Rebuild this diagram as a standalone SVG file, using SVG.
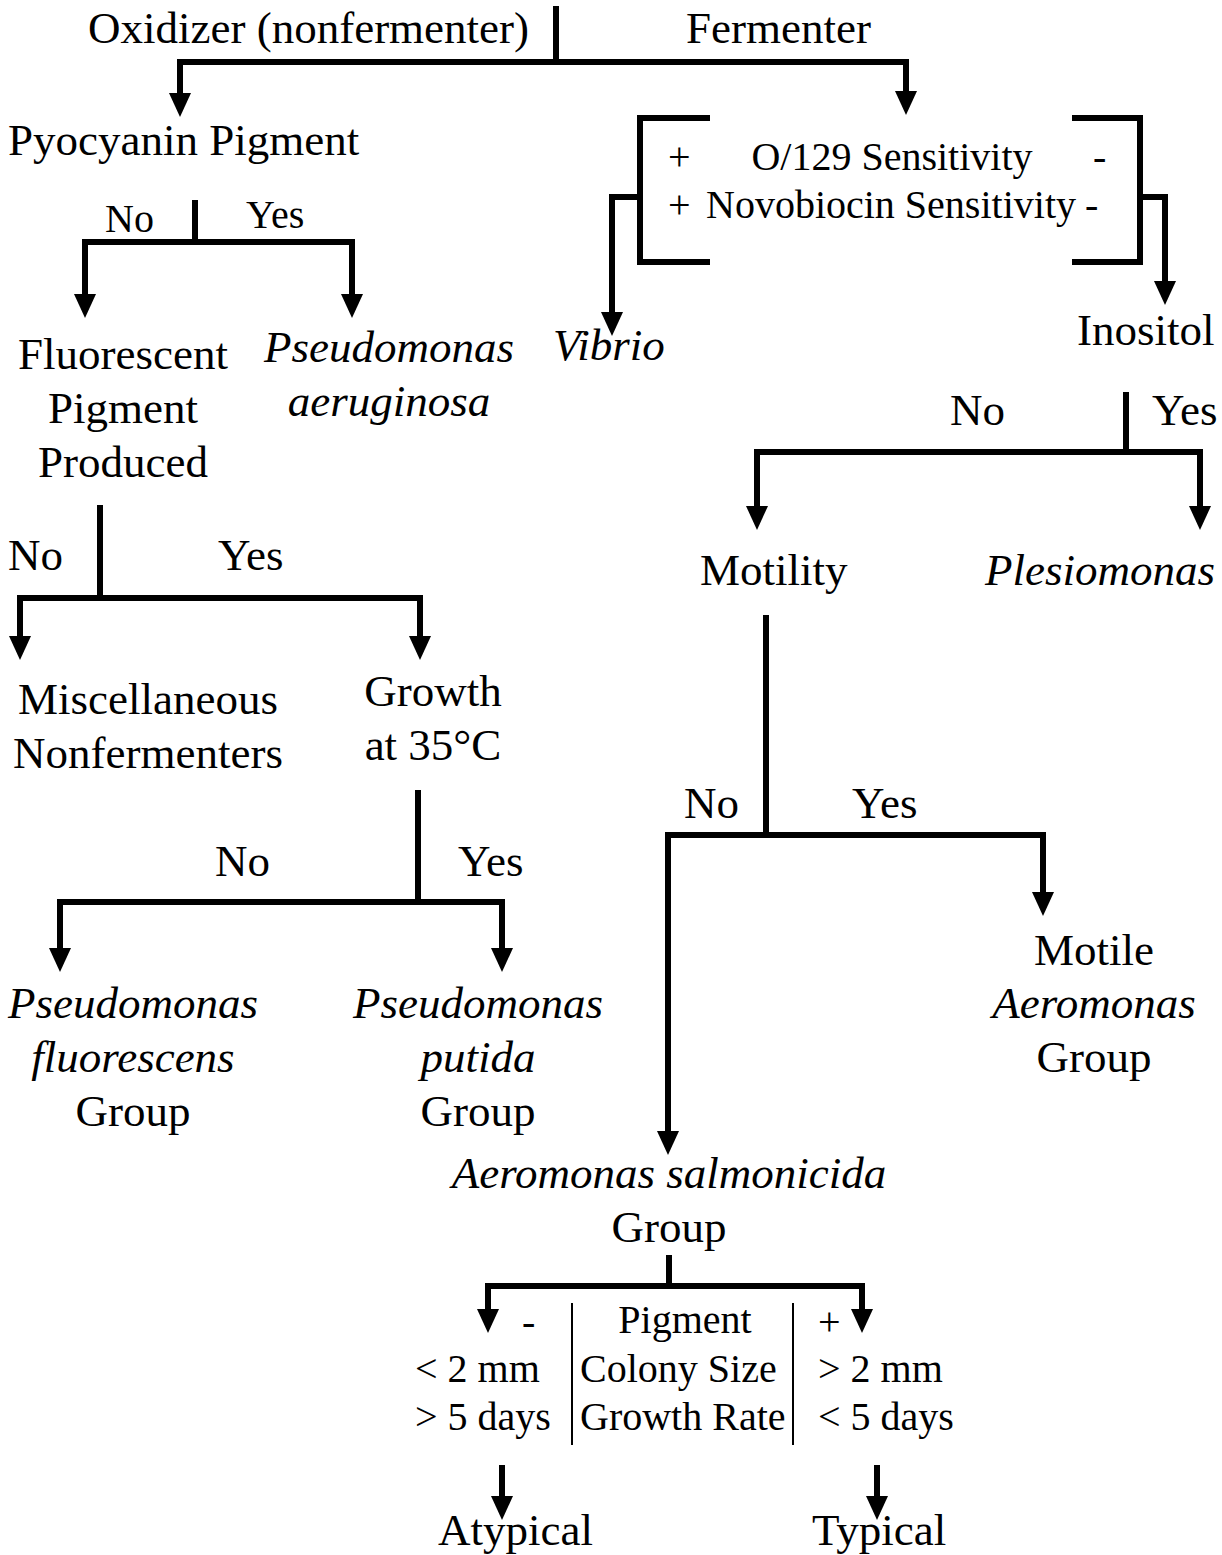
<svg xmlns="http://www.w3.org/2000/svg" width="1222" height="1555" viewBox="0 0 1222 1555">
<style>
text{font-family:'Liberation Serif',serif;fill:#000}
.m{font-size:45px}
.s{font-size:40px}
.i{font-style:italic}
.c{text-anchor:middle}
.ln{fill:none;stroke:#000;stroke-width:6;stroke-linejoin:miter}
.ar{fill:none;stroke:#000;stroke-width:6;stroke-linejoin:miter;marker-end:url(#ah)}
.thin{stroke:#000;stroke-width:2}
</style>
<defs>
<marker id="ah" markerUnits="userSpaceOnUse" markerWidth="24" markerHeight="22" viewBox="0 0 24 22" refX="0" refY="11" orient="auto"><path d="M0,0 L24,11 L0,22 z" fill="#000"/></marker>
</defs>
<rect width="1222" height="1555" fill="#fff"/>
<g id="connectors">
<line class="ln" x1="556" y1="6" x2="556" y2="62"/>
<path class="ar" d="M556,62 H180 V93"/>
<path class="ar" d="M556,62 H906 V91"/>
<line class="ln" x1="195" y1="200" x2="195" y2="242"/>
<path class="ar" d="M195,242 H85 V294"/>
<path class="ar" d="M195,242 H352 V294"/>
<line class="ln" x1="100" y1="505" x2="100" y2="598"/>
<path class="ar" d="M100,598 H20 V636"/>
<path class="ar" d="M100,598 H420 V636"/>
<line class="ln" x1="418" y1="790" x2="418" y2="902"/>
<path class="ar" d="M418,902 H60 V948"/>
<path class="ar" d="M418,902 H502 V948"/>
<path class="ln" d="M710,118 H640 V262 H710"/>
<path class="ar" d="M640,197 H612 V312"/>
<path class="ln" d="M1072,118 H1140 V262 H1072"/>
<path class="ar" d="M1140,197 H1165 V281"/>
<line class="ln" x1="1126" y1="392" x2="1126" y2="452"/>
<path class="ar" d="M1126,452 H757 V506"/>
<path class="ar" d="M1126,452 H1200 V506"/>
<line class="ln" x1="766" y1="615" x2="766" y2="835"/>
<path class="ar" d="M766,835 H668 V1131"/>
<path class="ar" d="M766,835 H1043 V892"/>
<line class="ln" x1="669" y1="1255" x2="669" y2="1286"/>
<path class="ar" d="M669,1286 H488 V1309"/>
<path class="ar" d="M669,1286 H862 V1309"/>
<line class="thin" x1="572" y1="1303" x2="572" y2="1445"/>
<line class="thin" x1="793" y1="1303" x2="793" y2="1445"/>
<path class="ar" d="M502,1465 V1496"/>
<path class="ar" d="M877,1465 V1496"/>
</g>
<g font-family="Liberation Serif, serif">
<g id="root">
<text class="m" x="88" y="43">Oxidizer (nonfermenter)</text>
<text class="m" x="686" y="43">Fermenter</text>
</g>
<g id="pyocyanin">
<text class="m" x="8" y="155">Pyocyanin Pigment</text>
<text class="s" x="105" y="232">No</text>
<text class="s" x="246" y="228">Yes</text>
</g>
<g id="sensitivity">
<text class="s" x="668" y="170">+</text>
<text class="s c" x="892" y="170">O/129 Sensitivity</text>
<text class="s" x="1093" y="170">-</text>
<text class="s" x="668" y="218">+</text>
<text class="s c" x="891" y="218">Novobiocin Sensitivity</text>
<text class="s" x="1085" y="218">-</text>
</g>
<g id="fluorescent">
<text class="m c" x="123" y="369">Fluorescent</text>
<text class="m c" x="123" y="423">Pigment</text>
<text class="m c" x="123" y="477">Produced</text>
<text class="m" x="8" y="570">No</text>
<text class="m" x="218" y="570">Yes</text>
</g>
<g id="aeruginosa">
<text class="m c i" x="389" y="362">Pseudomonas</text>
<text class="m c i" x="389" y="416">aeruginosa</text>
</g>
<g id="vibrio"><text class="m i" x="553" y="360">Vibrio</text></g>
<g id="inositol">
<text class="m" x="1077" y="345">Inositol</text>
<text class="m" x="950" y="425">No</text>
<text class="m" x="1152" y="425">Yes</text>
</g>
<g id="misc">
<text class="m c" x="148" y="714">Miscellaneous</text>
<text class="m c" x="148" y="768">Nonfermenters</text>
</g>
<g id="growth">
<text class="m c" x="433" y="706">Growth</text>
<text class="m c" x="433" y="760">at 35°C</text>
<text class="m" x="215" y="876">No</text>
<text class="m" x="458" y="876">Yes</text>
</g>
<g id="motility">
<text class="m" x="700" y="585">Motility</text>
<text class="m" x="684" y="818">No</text>
<text class="m" x="852" y="818">Yes</text>
</g>
<g id="plesiomonas"><text class="m i" x="985" y="585">Plesiomonas</text></g>
<g id="fluorescens">
<text class="m c i" x="133" y="1018">Pseudomonas</text>
<text class="m c i" x="133" y="1072">fluorescens</text>
<text class="m c" x="133" y="1126">Group</text>
</g>
<g id="putida">
<text class="m c i" x="478" y="1018">Pseudomonas</text>
<text class="m c i" x="478" y="1072">putida</text>
<text class="m c" x="478" y="1126">Group</text>
</g>
<g id="motile">
<text class="m c" x="1094" y="965">Motile</text>
<text class="m c i" x="1094" y="1018">Aeromonas</text>
<text class="m c" x="1094" y="1072">Group</text>
</g>
<g id="salmonicida">
<text class="m c i" x="669" y="1188">Aeromonas salmonicida</text>
<text class="m c" x="669" y="1242">Group</text>
</g>
<g id="table">
<text class="s" x="522" y="1335">-</text>
<text class="s c" x="685" y="1333">Pigment</text>
<text class="s" x="818" y="1335">+</text>
<text class="s" x="415" y="1382">&lt; 2 mm</text>
<text class="s" x="580" y="1382">Colony Size</text>
<text class="s" x="818" y="1382">&gt; 2 mm</text>
<text class="s" x="415" y="1430">&gt; 5 days</text>
<text class="s" x="580" y="1430">Growth Rate</text>
<text class="s" x="818" y="1430">&lt; 5 days</text>
</g>
<g id="atypical"><text class="m" x="438" y="1545">Atypical</text></g>
<g id="typical"><text class="m" x="812" y="1545">Typical</text></g>
</g>
</svg>
